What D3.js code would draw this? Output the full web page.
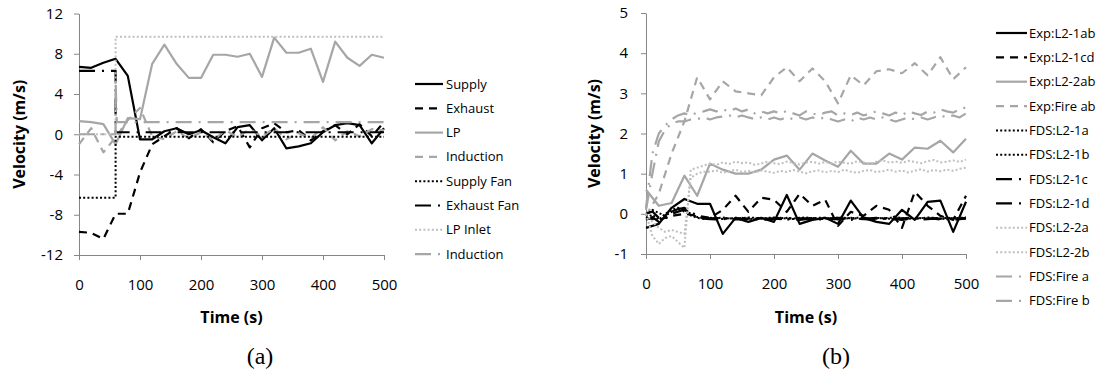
<!DOCTYPE html>
<html>
<head>
<meta charset="utf-8">
<script src="https://cdn.jsdelivr.net/npm/d3@7"></script>
<style>
  body { margin: 0; background: #fff; }
  .tick text { font-family: "Open Sans", sans-serif; font-size: 15px; fill: #000; }
  .axis path, .axis line { stroke: #868686; stroke-width: 1; }
  .title { font-family: "Open Sans", sans-serif; font-size: 16px; font-weight: bold; }
  .legend text { font-family: "Open Sans", sans-serif; font-size: 13px; }
  .caption { font-family: "Liberation Serif", serif; font-size: 24px; }
</style>
</head>
<body>
<script>
// ---- panel (a): measured and FDS velocities ----
const timeA = [0, 20, 40, 60, 80, 100, 120, 140, 160, 180, 200, 220, 240, 260, 280, 300, 320, 340, 360, 380, 400, 420, 440, 460, 480, 500];
const supplyA = [6.7, 6.6, 7.1, 7.5, 5.8, -0.5, -0.5, 0.3, 0.6, 0.0, 0.4, -0.3, -0.9, 0.7, 0.9, -0.6, 0.6, -1.4, -1.2, -0.9, 0.2, 0.9, 1.1, 0.9, -0.9, 0.6];
const exhaustA = [-9.7, -9.8, -10.4, -7.9, -7.9, -3.8, -1.0, -0.2, 0.6, -0.4, 0.5, -0.8, 0.3, 0.8, -1.3, 0.6, 1.1, 0.2, 0.4, -0.6, 0.3, 0.9, 0.0, 1.0, -0.2, 1.2];
const lpA = [1.3, 1.2, 1.0, -1.0, 1.6, 1.5, 7.0, 8.9, 7.0, 5.6, 5.6, 7.9, 7.9, 7.7, 8.0, 5.7, 9.6, 8.1, 8.1, 8.5, 5.2, 9.2, 7.6, 6.8, 7.9, 7.6];
const inductionA = [-1.0, 0.6, -1.8, -0.3, 1.4, 2.6, -0.2, -0.5, 0.3, -0.4, 0.2, -0.6, 0.4, -0.3, 0.5, -0.2, 0.6, -0.5, 0.1, -0.4, 0.7, -0.6, 0.3, -0.2, 0.5, 0.4];
const fanTimeA = [0, 60, 60, 500];
const supplyFanA = [-6.3, -6.3, -0.25, -0.25];
const exhaustFanA = [6.3, 6.3, 0.2, 0.2];
const lpInletA = [0, 0, 9.7, 9.7];
const inductionFdsTimeA = [0, 60, 60, 62, 500];
const inductionFdsA = [0, 0, 5.4, 1.2, 1.2];
const namesA = ['Supply', 'Exhaust', 'LP', 'Induction', 'Supply Fan', 'Exhaust Fan', 'LP Inlet', 'Induction'];
const xTicks = [0, 100, 200, 300, 400, 500];
const yTicksA = [-12, -8, -4, 0, 4, 8, 12];

// ---- panel (b): level 2 and fire openings ----
const timeB = [0, 20, 40, 60, 80, 100, 120, 140, 160, 180, 200, 220, 240, 260, 280, 300, 320, 340, 360, 380, 400, 420, 440, 460, 480, 500];
const expL21ab = [-0.35, -0.25, 0.15, 0.37, 0.25, 0.25, -0.5, -0.1, -0.2, -0.1, -0.2, 0.47, -0.25, -0.15, -0.1, -0.25, 0.33, -0.1, -0.2, -0.25, 0.1, -0.15, 0.3, 0.33, -0.45, 0.3];
const expL21cd = [-0.1, -0.15, -0.05, 0.0, -0.05, -0.1, 0.1, 0.45, 0.05, 0.4, 0.35, 0.05, 0.5, 0.2, 0.35, -0.3, 0.05, -0.05, 0.2, 0.1, -0.35, 0.55, 0.2, -0.05, -0.15, 0.45];
const expL22ab = [0.6, 0.2, 0.27, 0.95, 0.45, 1.25, 1.1, 1.0, 1.0, 1.1, 1.35, 1.45, 1.1, 1.5, 1.33, 1.17, 1.57, 1.25, 1.25, 1.5, 1.35, 1.65, 1.62, 1.82, 1.53, 1.87];
const expFireAb = [-0.05, 0.5, 1.5, 2.3, 3.4, 2.85, 3.3, 3.05, 3.0, 2.95, 3.4, 3.65, 3.3, 3.62, 3.3, 2.75, 3.45, 3.2, 3.55, 3.6, 3.5, 3.75, 3.45, 3.9, 3.35, 3.65];
const fdsTimeB = [0, 10, 20, 30, 40, 50, 60, 70, 80, 90,
  100, 110, 120, 130, 140, 150, 160, 170, 180, 190,
  200, 210, 220, 230, 240, 250, 260, 270, 280, 290,
  300, 310, 320, 330, 340, 350, 360, 370, 380, 390,
  400, 410, 420, 430, 440, 450, 460, 470, 480, 490, 500];
const fdsL21a = [-0.05, 0.1, 0.02, -0.05, 0.05, 0.1, 0.06, -0.04, -0.1, -0.12,
  -0.1, -0.11, -0.09, -0.12, -0.1, -0.11, -0.09, -0.1, -0.12, -0.1,
  -0.09, -0.11, -0.1, -0.12, -0.1, -0.09, -0.11, -0.1, -0.1, -0.12,
  -0.09, -0.1, -0.11, -0.1, -0.09, -0.12, -0.1, -0.11, -0.1, -0.09,
  -0.1, -0.12, -0.1, -0.11, -0.09, -0.1, -0.12, -0.1, -0.11, -0.1, -0.09];
const fdsL21b = [-0.1, -0.02, -0.15, 0.0, 0.1, 0.15, 0.1, 0.0, -0.08, -0.1,
  -0.12, -0.1, -0.13, -0.11, -0.12, -0.1, -0.13, -0.12, -0.11, -0.13,
  -0.12, -0.1, -0.12, -0.13, -0.11, -0.12, -0.1, -0.13, -0.12, -0.11,
  -0.13, -0.12, -0.1, -0.12, -0.13, -0.11, -0.12, -0.1, -0.12, -0.13,
  -0.11, -0.12, -0.13, -0.1, -0.12, -0.11, -0.13, -0.12, -0.1, -0.12, -0.11];
const fdsL21c = [-0.15, -0.08, -0.2, -0.05, 0.05, 0.12, 0.15, 0.05, -0.05, -0.12,
  -0.13, -0.14, -0.12, -0.15, -0.13, -0.14, -0.12, -0.13, -0.15, -0.14,
  -0.13, -0.12, -0.14, -0.13, -0.15, -0.13, -0.12, -0.14, -0.13, -0.12,
  -0.14, -0.13, -0.15, -0.12, -0.13, -0.14, -0.13, -0.12, -0.14, -0.13,
  -0.15, -0.13, -0.12, -0.14, -0.13, -0.12, -0.14, -0.13, -0.15, -0.13, -0.12];
const fdsL21d = [0.0, 0.06, -0.1, -0.12, 0.0, 0.05, 0.1, 0.02, -0.1, -0.1,
  -0.11, -0.12, -0.1, -0.12, -0.11, -0.13, -0.12, -0.11, -0.1, -0.12,
  -0.11, -0.13, -0.12, -0.1, -0.12, -0.11, -0.12, -0.13, -0.11, -0.12,
  -0.1, -0.12, -0.11, -0.13, -0.12, -0.11, -0.1, -0.12, -0.13, -0.11,
  -0.12, -0.1, -0.11, -0.13, -0.12, -0.11, -0.12, -0.1, -0.11, -0.12, -0.1];
const fdsL22a = [0.0, -0.55, -0.75, -0.6, -0.55, -0.7, -0.85, 1.1, 1.15, 1.2,
  1.25, 1.22, 1.28, 1.24, 1.3, 1.26, 1.28, 1.22, 1.25, 1.3,
  1.26, 1.24, 1.3, 1.27, 1.23, 1.28, 1.3, 1.25, 1.29, 1.26,
  1.3, 1.27, 1.25, 1.31, 1.28, 1.24, 1.3, 1.33, 1.28, 1.3,
  1.27, 1.32, 1.29, 1.26, 1.31, 1.34, 1.28, 1.3, 1.33, 1.29, 1.35];
const fdsL22b = [0.0, -0.2, -0.35, -0.45, -0.4, -0.45, -0.5, 0.9, 1.0, 1.05,
  1.05, 1.08, 1.02, 1.06, 1.1, 1.04, 1.07, 1.03, 1.08, 1.05,
  1.02, 1.07, 1.04, 1.09, 1.05, 1.01, 1.06, 1.08, 1.03, 1.07,
  1.04, 1.1, 1.05, 1.02, 1.07, 1.09, 1.04, 1.06, 1.1, 1.05,
  1.08, 1.03, 1.07, 1.11, 1.05, 1.09, 1.06, 1.1, 1.07, 1.12, 1.15];
const fdsFireA = [0.15, 1.5, 2.0, 2.2, 2.35, 2.45, 2.5, 2.45, 2.52, 2.55,
  2.6, 2.55, 2.6, 2.55, 2.62, 2.55, 2.6, 2.5, 2.55, 2.5,
  2.55, 2.5, 2.56, 2.5, 2.45, 2.55, 2.5, 2.46, 2.52, 2.55,
  2.45, 2.5, 2.46, 2.52, 2.45, 2.5, 2.55, 2.5, 2.45, 2.52,
  2.46, 2.55, 2.5, 2.46, 2.55, 2.52, 2.6, 2.55, 2.52, 2.6, 2.65];
const fdsFireB = [0.1, 1.0, 1.8, 2.1, 2.25, 2.3, 2.3, 2.35, 2.36, 2.4,
  2.35, 2.4, 2.42, 2.45, 2.4, 2.45, 2.4, 2.36, 2.4, 2.35,
  2.4, 2.35, 2.4, 2.36, 2.4, 2.35, 2.4, 2.36, 2.4, 2.35,
  2.3, 2.35, 2.3, 2.4, 2.35, 2.4, 2.35, 2.4, 2.35, 2.3,
  2.35, 2.4, 2.35, 2.4, 2.35, 2.4, 2.45, 2.4, 2.45, 2.4, 2.5];
const namesB = ['Exp:L2-1ab', 'Exp:L2-1cd', 'Exp:L2-2ab', 'Exp:Fire ab', 'FDS:L2-1a', 'FDS:L2-1b',
  'FDS:L2-1c', 'FDS:L2-1d', 'FDS:L2-2a', 'FDS:L2-2b', 'FDS:Fire a', 'FDS:Fire b'];
const yTicksB = [-1, 0, 1, 2, 3, 4, 5];

// Line styles, Excel-like: solid, dash, round dot, long dash dot
const BLACK = '#000';
const GRAY = '#a6a6a6';
const LIGHT = '#bfbfbf';
const style = {
  solidK: {color: BLACK, width: 2.2, dash: null},
  dashK: {color: BLACK, width: 2.2, dash: '8,6'},
  solidG: {color: GRAY, width: 2.2, dash: null},
  dashG: {color: GRAY, width: 2.2, dash: '8,6'},
  dotK: {color: BLACK, width: 2, dash: '2,2.2'},
  dashDotK: {color: BLACK, width: 2.2, dash: '16,7,2,7'},
  dotL: {color: LIGHT, width: 2, dash: '2,2.2'},
  dashDotG: {color: GRAY, width: 2.2, dash: '16,7,2,7'},
};

// plain hyphen for negatives, no decimals (Excel look)
const fmt = d => String(d);

const svg = d3.select('body').append('svg')
  .attr('width', 1099)
  .attr('height', 374);

/*
  Draw one panel: axes, the series lines, the legend and the labels.
*/
function drawPanel(p) {
  const x = d3.scaleLinear().domain([0, 500]).range(p.xRange);
  const y = d3.scaleLinear().domain(p.yDomain).range(p.yRange);
  const g = svg.append('g');

  g.append('g')
    .attr('class', 'axis')
    .attr('transform', `translate(0,${p.yRange[0]})`)
    .call(d3.axisBottom(x).tickValues(xTicks).tickFormat(fmt)
      .tickSize(5).tickSizeOuter(0).tickPadding(p.xPad));

  g.append('g')
    .attr('class', 'axis')
    .attr('transform', `translate(${p.xRange[0]},0)`)
    .call(d3.axisLeft(y).tickValues(p.yTicks).tickFormat(fmt)
      .tickSize(5).tickSizeOuter(0).tickPadding(p.yPad));

  const line = d3.line()
    .x(d => x(d[0]))
    .y(d => y(d[1]));

  p.series.forEach(s => {
    const st = style[s.style];
    g.append('path')
      .datum(d3.zip(s.time, s.values))
      .attr('d', line)
      .attr('fill', 'none')
      .attr('stroke', st.color)
      .attr('stroke-width', st.width)
      .attr('stroke-dasharray', st.dash)
      .attr('stroke-linejoin', 'round');
  });

  // legend
  const leg = g.append('g').attr('class', 'legend');
  p.series.forEach((s, i) => {
    const st = style[s.style];
    const ly = p.legend.y + i * p.legend.step;
    leg.append('line')
      .attr('x1', p.legend.x)
      .attr('x2', p.legend.x + p.legend.len)
      .attr('y1', ly)
      .attr('y2', ly)
      .attr('stroke', st.color)
      .attr('stroke-width', st.width)
      .attr('stroke-dasharray', st.dash);
    leg.append('text')
      .attr('x', p.legend.x + p.legend.len + p.legend.gap)
      .attr('y', ly)
      .attr('dy', '0.35em')
      .text(s.name);
  });

  g.append('text')
    .attr('class', 'title')
    .attr('transform', `translate(${p.yTitleX},${(p.yRange[0] + p.yRange[1]) / 2}) rotate(-90)`)
    .attr('text-anchor', 'middle')
    .attr('dy', '0.35em')
    .text('Velocity (m/s)');

  g.append('text')
    .attr('class', 'title')
    .attr('x', (p.xRange[0] + p.xRange[1]) / 2)
    .attr('y', 323)
    .attr('text-anchor', 'middle')
    .text('Time (s)');

  g.append('text')
    .attr('class', 'caption')
    .attr('x', p.captionX)
    .attr('y', 364)
    .attr('text-anchor', 'middle')
    .text(p.caption);
}

drawPanel({
  xRange: [79, 384],
  yDomain: [-12, 12],
  yRange: [255, 13.5],
  yTicks: yTicksA,
  xPad: 19,
  yPad: 11,
  yTitleX: 19,
  caption: '(a)',
  captionX: 260,
  legend: {x: 415, y: 84, step: 24.3, len: 28, gap: 3},
  series: [
    {name: namesA[0], time: timeA, values: supplyA, style: 'solidK'},
    {name: namesA[1], time: timeA, values: exhaustA, style: 'dashK'},
    {name: namesA[2], time: timeA, values: lpA, style: 'solidG'},
    {name: namesA[3], time: timeA, values: inductionA, style: 'dashG'},
    {name: namesA[4], time: fanTimeA, values: supplyFanA, style: 'dotK'},
    {name: namesA[5], time: fanTimeA, values: exhaustFanA, style: 'dashDotK'},
    {name: namesA[6], time: fanTimeA, values: lpInletA, style: 'dotL'},
    {name: namesA[7], time: inductionFdsTimeA, values: inductionFdsA, style: 'dashDotG'},
  ],
});

drawPanel({
  xRange: [646, 966],
  yDomain: [-1, 5],
  yRange: [254, 13],
  yTicks: yTicksB,
  xPad: 19,
  yPad: 13,
  yTitleX: 594,
  caption: '(b)',
  captionX: 836,
  legend: {x: 996, y: 33, step: 24.35, len: 31, gap: 2},
  series: [
    {name: namesB[0], time: timeB, values: expL21ab, style: 'solidK'},
    {name: namesB[1], time: timeB, values: expL21cd, style: 'dashK'},
    {name: namesB[2], time: timeB, values: expL22ab, style: 'solidG'},
    {name: namesB[3], time: timeB, values: expFireAb, style: 'dashG'},
    {name: namesB[4], time: fdsTimeB, values: fdsL21a, style: 'dotK'},
    {name: namesB[5], time: fdsTimeB, values: fdsL21b, style: 'dotK'},
    {name: namesB[6], time: fdsTimeB, values: fdsL21c, style: 'dashDotK'},
    {name: namesB[7], time: fdsTimeB, values: fdsL21d, style: 'dashDotK'},
    {name: namesB[8], time: fdsTimeB, values: fdsL22a, style: 'dotL'},
    {name: namesB[9], time: fdsTimeB, values: fdsL22b, style: 'dotL'},
    {name: namesB[10], time: fdsTimeB, values: fdsFireA, style: 'dashDotG'},
    {name: namesB[11], time: fdsTimeB, values: fdsFireB, style: 'dashDotG'},
  ],
});
</script>
</body>
</html>
